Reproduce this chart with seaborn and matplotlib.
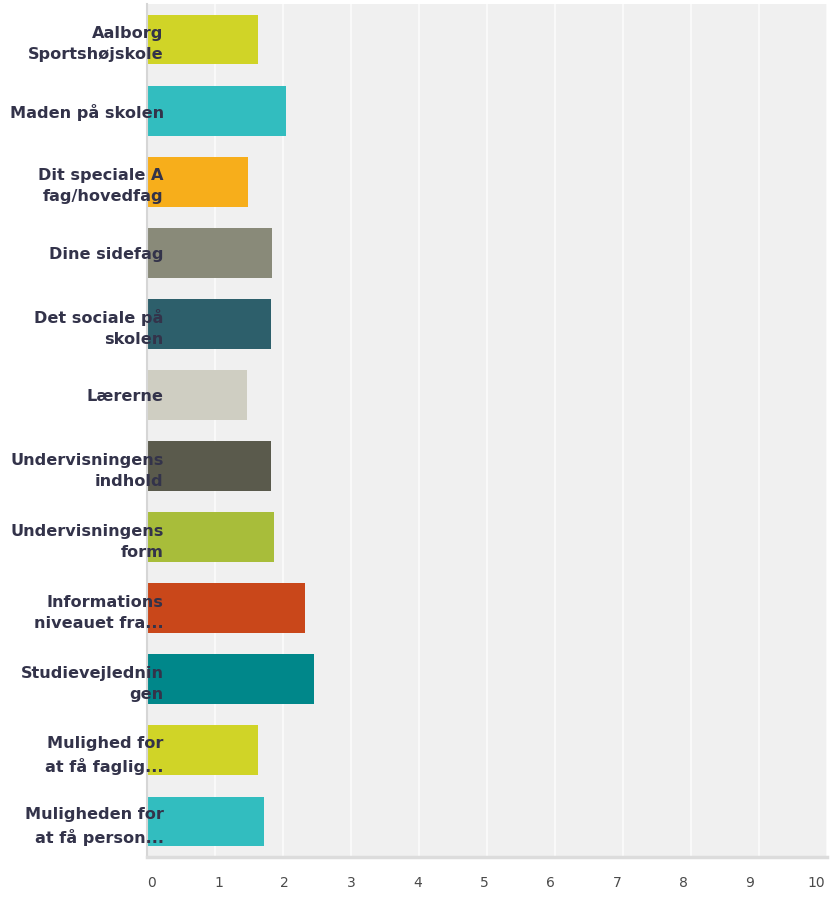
import matplotlib
matplotlib.use("Agg")
import matplotlib.pyplot as plt
import matplotlib.transforms as mtransforms
import pandas as pd
import seaborn as sns

# Data
categories = [
    "Aalborg\nSportshøjskole",
    "Maden på skolen",
    "Dit speciale A\nfag/hovedfag",
    "Dine sidefag",
    "Det sociale på\nskolen",
    "Lærerne",
    "Undervisningens\nindhold",
    "Undervisningens\nform",
    "Informations\nniveauet fra...",
    "Studievejlednin\ngen",
    "Mulighed for\nat få faglig...",
    "Muligheden for\nat få person...",
]
scores = [1.63, 2.04, 1.49, 1.84, 1.83, 1.47, 1.83, 1.87, 2.32, 2.46, 1.63, 1.72]
bar_colors = ["#d0d427", "#32bdbf", "#f7ae1b", "#898a79", "#2d5f6b", "#cfcec2",
              "#5a5a4c", "#a8bd3a", "#c9471a", "#00878a", "#d0d427", "#32bdbf"]
x_ticks = list(range(0, 11))

df = pd.DataFrame({"category": categories, "score": scores})

sns.set_style("white")
plt.rcParams["font.family"] = ["DejaVu Sans"]

fig = plt.figure(figsize=(8.3, 8.97), dpi=100)
ax = fig.add_axes([0.1771, 0.0446, 0.8193, 0.9509])
ax.set_facecolor("#f0f0f0")

# faint vertical grid lines behind the bars
for xt in x_ticks[1:]:
    ax.axvline(xt, color="#fbfbfb", linewidth=1.2, zorder=0.5)

sns.barplot(data=df, x="score", y="category", hue="category", palette=bar_colors,
            legend=False, width=0.7, saturation=1, linewidth=0, ax=ax, zorder=1)

# axis (tick labels) drawn on top of the bars
ax.set_axisbelow(False)
ax.grid(False)
ax.set_xlim(0, 10)
ax.set_xticks(x_ticks)
ax.set_xlabel("")
ax.set_ylabel("")

for side in ["top", "right"]:
    ax.spines[side].set_visible(False)
ax.spines["left"].set_color("#d6d6d6")
ax.spines["left"].set_linewidth(1.5)
ax.spines["bottom"].set_color("#dcdcdc")
ax.spines["bottom"].set_linewidth(2.5)

ax.tick_params(axis="y", length=0, pad=-12, labelsize=11.6, labelcolor="#33334a")
ax.tick_params(axis="x", length=0, pad=14, labelsize=10, labelcolor="#4a4a4a")
for lbl in ax.get_yticklabels():
    lbl.set_fontweight("semibold")
    lbl.set_linespacing(1.5)

# x labels sit a bit off the grid lines, drifting left towards 10
for i, lbl in enumerate(ax.get_xticklabels()):
    shift = mtransforms.ScaledTranslation((5 - 1.6 * i) / 100, 0, fig.dpi_scale_trans)
    lbl.set_transform(lbl.get_transform() + shift)

fig.savefig("out.png", dpi=100)
